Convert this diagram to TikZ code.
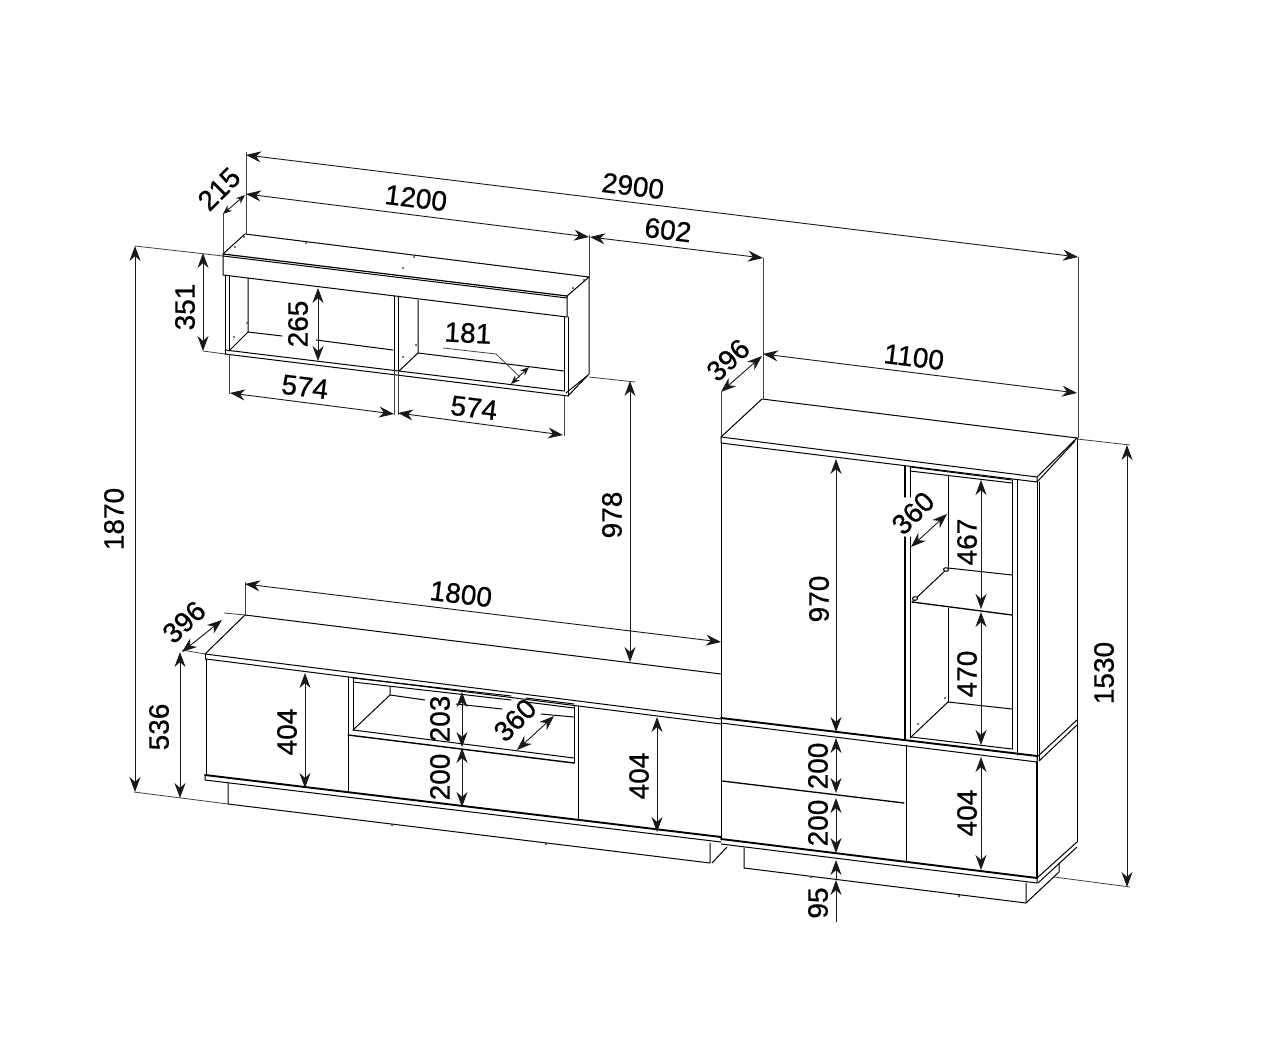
\documentclass[tikz,border=0pt]{standalone}
\usepackage{fontspec}
\setmainfont{Liberation Sans}
\newfontfamily\dimfont[FakeBold=0.7]{Liberation Sans}
\usetikzlibrary{arrows.meta}
\tikzset{
  ln/.style={draw=black,line width=1pt,line cap=round,line join=round},
  thk/.style={draw=black,line width=1.9pt,line cap=round},
  ext/.style={draw=black!75,line width=0.8pt},
  dimline/.style={draw=black!90,line width=0.9pt,{Stealth[length=15pt,width=11pt]}-{Stealth[length=15pt,width=11pt]}},
  shortdim/.style={draw=black!90,line width=0.9pt,{Stealth[length=9pt,width=7pt]}-{Stealth[length=9pt,width=7pt]}},
  upline/.style={draw=black!90,line width=0.9pt,-{Stealth[length=15pt,width=11pt]}},
  lab/.style={font=\dimfont\fontsize{28}{28}\selectfont,inner sep=0pt,text=black},
  screw/.style={fill=black!70,draw=none}
}
\begin{document}
\begin{tikzpicture}[x=1pt,y=-1pt]
\useasboundingbox (0,0) rectangle (1280,1048);
\fill[white] (0,0) rectangle (1280,1048);

% ---- wall shelf
\draw[ln] (223,254) -- (245,234) -- (589,277) -- (567,296);
\draw[thk,line width=1.2pt] (223,254) -- (567,296);
\draw[ln] (223,256) -- (567,298);
\draw[ln] (223,254) -- (223,275) -- (567,317) -- (567,296);
\draw[ln] (225,275) -- (225,354);
\draw[ln] (229,276) -- (229,351);
\draw[ln] (394,296) -- (394,370);
\draw[ln] (398,296) -- (398,371);
\draw[ln] (564,317) -- (564,391);
\draw[ln] (568,317) -- (568,396);
\draw[ln] (589,277) -- (589,374) -- (568,396);
\draw[ln] (587,376) -- (566,393);
\draw[ln] (225,350) -- (564,391);
\draw[ln] (225,354) -- (568,396);
\draw[ln] (248,278) -- (248,332) -- (230,350);
\draw[ln] (248,332) -- (282,336);
\draw[ln] (316,340) -- (393,350);
\draw[ln] (418,300) -- (418,353) -- (399,371);
\draw[ln] (418,353) -- (564,371);
% shelf screws
\foreach \p in {(235,247),(244,237),(306,243),(414,257),(403,268),(526,269),(573,288),(584,280),(247,323),(234,337),(416,345),(403,357)}
  \fill[screw] \p circle (1.2);

% shelf dimensions
\draw[ext] (223,254) -- (223,213);
\draw[ext] (246,152) -- (246,234);
\draw[ext] (589,277) -- (589,235);
\draw[dimline] (246,155) -- (1078,257);
\draw[dimline] (246,194) -- (589,237);
\draw[dimline] (590,237) -- (763,258);
\draw[shortdim] (245,195) -- (223,214);
\draw[ext] (135,246) -- (223,256);
\draw[dimline] (135,246) -- (135,792);
\draw[ext] (203,351) -- (225,354);
\draw[dimline] (203,253) -- (203,351);
\draw[dimline] (318,288) -- (318,361);
\draw[ext] (229,354) -- (229,394);
\draw[ext] (394,370) -- (394,415);
\draw[ext] (398,371) -- (398,415);
\draw[ext] (564,396) -- (564,436);
\draw[dimline] (230,393) -- (394,414);
\draw[dimline] (398,413) -- (563,435);
\draw[ext] (443,348) -- (496,354) -- (520,377);
\draw[shortdim] (529,367) -- (511,384);
\draw[ext] (589,377) -- (635,382);
\draw[dimline] (630,381) -- (630,662);

% ---- low unit
\draw[ln] (245,615) -- (721,674);
\draw[ext] (182,650) -- (205,654);
\draw[ext] (224,613) -- (245,615);
\draw[ln] (205,654) -- (245,615);
\draw[ln] (205,654) -- (721,719);
\draw[ln] (205,654) -- (205,659);
\draw[ln] (206,659) -- (721,724);
\draw[ln] (206,659) -- (206,775);
\draw[thk] (205,775) -- (721,837);
\draw[ln] (205,775) -- (205,780) -- (721,842);
\draw[ln] (228,783) -- (228,804) -- (710,863) -- (710,843);
\draw[ln] (712,863) -- (727,847);
\draw[ln] (348,677) -- (348,792);
\draw[ln] (353,678) -- (353,730);
\draw[ln] (578,706) -- (578,820);
\draw[ln] (574,706) -- (574,763);
\draw[thk,line width=1.4pt] (348,735) -- (574,763);
\draw[ln] (353,730) -- (574,758);
\draw[ln] (353,678) -- (511,696);
\draw[ln] (526,698) -- (574,704);
\draw[ln] (353,682) -- (511,700);
\draw[ln] (526,702) -- (574,708);
\draw[ln] (390,687) -- (390,695) -- (353,730);
\draw[ln] (390,695) -- (425,700);
\draw[ln] (456,704) -- (502,709);
\draw[ln] (541,714) -- (574,717);
\foreach \p in {(392,825),(546,844)} \fill[screw] \p circle (1.3);

\draw[ext] (134,792) -- (228,804);
\draw[dimline] (180,652) -- (180,798);
\draw[dimline] (222,620) -- (182,652);
\draw[ext] (245,582) -- (245,615);
\draw[dimline] (245,584) -- (721,642);
\draw[dimline] (305,673) -- (305,788);
\draw[dimline] (657,717) -- (657,832);
\draw[dimline] (462,692) -- (462,747);
\draw[dimline] (462,748) -- (462,807);
\draw[dimline] (554,716) -- (517,750);

% ---- tall unit
\draw[ln] (721,437) -- (762,399) -- (1077,438) -- (1037,477);
\draw[ln] (721,437) -- (1037,477);
\draw[ln] (721,437) -- (721,443) -- (1037,482) -- (1037,477);
\draw[ln] (721,443) -- (721,840);
\draw[ln] (1077,438) -- (1077,842);
\draw[ln] (1075,441) -- (1037,482);
\draw[ln] (1037,482) -- (1037,760);
\draw[ln] (1039,482) -- (1039,760);
\draw[ln,line width=1.4pt] (905,466) -- (905,497);
\draw[ln,line width=1.4pt] (905,537) -- (905,740);
\draw[ln] (910,467) -- (910,497);
\draw[ln] (910,537) -- (910,738);
\draw[ln] (1012,480) -- (1012,749);
\draw[ln] (1017,480) -- (1017,755);
\draw[ln] (910,467) -- (1012,480);
\draw[ln] (910,471) -- (1012,483);
\draw[ln] (948,475) -- (948,567);
\draw[ln] (948,608) -- (948,702);
\draw[ln] (948,568) -- (1012,575);
\draw[ln] (948,568) -- (912,602);
\draw[ln,line width=1.3pt] (912,602) -- (1012,615);
\draw[ln] (948,702) -- (1012,709);
\draw[ln] (948,702) -- (911,737);
\draw[ln] (911,737) -- (1012,749);
\draw[ln,fill=white] (946,569.5) ellipse (2.5 and 1.8);
\draw[ln,fill=white] (915,598.5) ellipse (2.5 and 1.8);
\fill[screw] (945,698) circle (1.2);
\fill[screw] (918,724) circle (1.2);

% lower unit of tall part
\draw[thk] (721,718) -- (1037,756);
\draw[ln] (721,723) -- (1037,762) -- (1037,756);
\draw[ln] (1037,757) -- (1077,720);
\draw[ln] (1039,761) -- (1077,725);
\draw[thk,line width=1.5pt] (1037,762) -- (1037,878);
\draw[thk] (721,839) -- (1037,878);
\draw[ln] (721,844) -- (1037,883) -- (1037,878);
\draw[ln] (1037,878) -- (1077,842);
\draw[ln] (1038,883) -- (1077,847);
\draw[ln] (906,745) -- (906,862);
\draw[thk,line width=1.3pt] (722,781) -- (904,803);
\draw[ln] (744,848) -- (744,868) -- (1026,903) -- (1026,883);
\draw[ln] (1026,903) -- (1059,872) -- (1059,863);
\foreach \p in {(811,877),(959,896)} \fill[screw] \p circle (1.3);

% tall unit dimensions
\draw[ext] (721,392) -- (721,437);
\draw[ext] (763,258) -- (763,399);
\draw[ext] (1078,257) -- (1078,438);
\draw[dimline] (762,356) -- (721,392);
\draw[dimline] (763,354) -- (1077,393);
\draw[dimline] (836,459) -- (836,732);
\draw[dimline] (836,738) -- (836,793);
\draw[dimline] (836,798) -- (836,853);
\draw[upline] (836,880) -- (836,860);
\draw[upline] (836,922) -- (836,880);
\draw[dimline] (981,757) -- (981,870);
\draw[dimline] (981,612) -- (981,745);
\draw[dimline] (981,480) -- (981,609);
\draw[dimline] (947,514) -- (911,547);
\draw[ext] (1077,439) -- (1130,445);
\draw[ext] (1054,877) -- (1130,887);
\draw[dimline] (1127,445) -- (1127,887);

% ---- labels
\node[lab,rotate=-7] (t2900) at (633,186) {2900};
\node[lab,rotate=-7] (t1200) at (416,198) {1200};
\node[lab,rotate=-7] (t602) at (668,230) {602};
\node[lab,rotate=45] (t215) at (219,189) {215};
\node[lab,rotate=90] (t351) at (185,307) {351};
\node[lab,rotate=90] (t265) at (298,324) {265};
\node[lab,rotate=-3] (t181) at (468,333) {181};
\node[lab,rotate=-7] (t574a) at (305,387) {574};
\node[lab,rotate=-7] (t574b) at (474,408) {574};
\node[lab,rotate=90] (t1870) at (114,519) {1870};
\node[lab,rotate=90] (t978) at (612,515) {978};
\node[lab,rotate=-7] (t1800) at (461,594) {1800};
\node[lab,rotate=43] (t396a) at (184,622) {396};
\node[lab,rotate=90] (t536) at (159,727) {536};
\node[lab,rotate=90] (t404a) at (287,732) {404};
\node[lab,rotate=90] (t203) at (440,719) {203};
\node[lab,rotate=90] (t200a) at (440,777) {200};
\node[lab,rotate=45] (t360a) at (515,720) {360};
\node[lab,rotate=90] (t404b) at (639,776) {404};
\node[lab,rotate=43] (t396b) at (728,360) {396};
\node[lab,rotate=-7] (t1100) at (914,357) {1100};
\node[lab,rotate=45] (t360b) at (913,513) {360};
\node[lab,rotate=90] (t467) at (967,542) {467};
\node[lab,rotate=90] (t970) at (819,599) {970};
\node[lab,rotate=90] (t470) at (967,674) {470};
\node[lab,rotate=90] (t1530) at (1104,673) {1530};
\node[lab,rotate=90] (t200b) at (818,766) {200};
\node[lab,rotate=90] (t200c) at (818,823) {200};
\node[lab,rotate=90] (t95) at (818,903) {95};
\node[lab,rotate=90] (t404c) at (967,813) {404};
\end{tikzpicture}
\end{document}
